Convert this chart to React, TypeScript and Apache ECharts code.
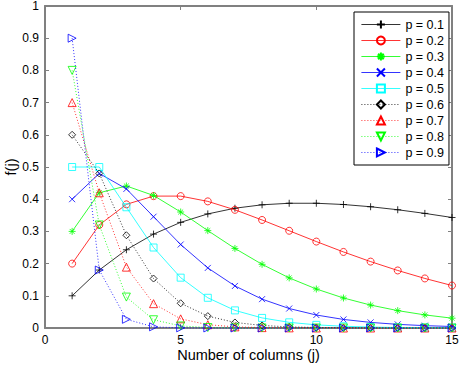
import React, { useEffect, useRef } from "react";
import * as echarts from "echarts";

const columns = [1, 2, 3, 4, 5, 6, 7, 8, 9, 10, 11, 12, 13, 14, 15];

const p01 = [0.1, 0.18, 0.243, 0.2916, 0.3281, 0.3543, 0.372, 0.3826, 0.3874, 0.3874, 0.3835, 0.3766, 0.3672, 0.3559, 0.3432];
const p02 = [0.2, 0.32, 0.384, 0.4096, 0.4096, 0.3932, 0.367, 0.3355, 0.302, 0.2684, 0.2362, 0.2062, 0.1787, 0.1539, 0.1319];
const p03 = [0.3, 0.42, 0.441, 0.4116, 0.3602, 0.3025, 0.2471, 0.1977, 0.1556, 0.1211, 0.0932, 0.0712, 0.054, 0.0407, 0.0305];
const p04 = [0.4, 0.48, 0.432, 0.3456, 0.2592, 0.1866, 0.1306, 0.0896, 0.0605, 0.0403, 0.0266, 0.0174, 0.0113, 0.0073, 0.0047];
const p05 = [0.5, 0.5, 0.375, 0.25, 0.1563, 0.0938, 0.0547, 0.0313, 0.0176, 0.0098, 0.0054, 0.0029, 0.0016, 0.0009, 0.0005];
const p06 = [0.6, 0.48, 0.288, 0.1536, 0.0768, 0.0369, 0.0172, 0.0079, 0.0035, 0.0016, 0.0007, 0.0003, 0.0001, 0.0001, 0.0];
const p07 = [0.7, 0.42, 0.189, 0.0756, 0.0284, 0.0102, 0.0036, 0.0012, 0.0004, 0.0001, 0.0, 0.0, 0.0, 0.0, 0.0];
const p08 = [0.8, 0.32, 0.096, 0.0256, 0.0064, 0.0015, 0.0004, 0.0001, 0.0, 0.0, 0.0, 0.0, 0.0, 0.0, 0.0];
const p09 = [0.9, 0.18, 0.027, 0.0036, 0.0005, 0.0001, 0.0, 0.0, 0.0, 0.0, 0.0, 0.0, 0.0, 0.0, 0.0];

const seriesNames = ["p = 0.1", "p = 0.2", "p = 0.3", "p = 0.4", "p = 0.5", "p = 0.6", "p = 0.7", "p = 0.8", "p = 0.9"];
const seriesValues = [p01, p02, p03, p04, p05, p06, p07, p08, p09];

const xTicks = { min: 0, max: 15, interval: 5 };
const yTicks = { min: 0, max: 1, interval: 0.1 };

const xLabel = "Number of columns (j)";
const yLabel = "f(j)";

const colors = ["#000000", "#ff0000", "#00ff00", "#0000ff", "#00ffff", "#000000", "#ff0000", "#00ff00", "#0000ff"];
const symbols = [
  "path://M0,5L10,5M5,0L5,10",
  "circle",
  "path://M0,5L10,5M5,0L5,10M1.5,1.5L8.5,8.5M8.5,1.5L1.5,8.5",
  "path://M0,0L10,10M10,0L0,10",
  "rect",
  "path://M5,0L10,5L5,10L0,5Z",
  "path://M5,0L10,10L0,10Z",
  "path://M0,0L10,0L5,10Z",
  "path://M0,0L10,5L0,10Z",
];
const symbolSizes = [7, 7, 7, 6, 7, 7, 8, 8, 8];
const dotted = [false, false, false, false, false, true, true, true, true];

const FONT = "'Liberation Sans', Arial, Helvetica, sans-serif";
const AXIS_COLOR = "#808080";

export default function App() {
  const ref = useRef<HTMLDivElement>(null);
  useEffect(() => {
    if (!ref.current) return;
    const chart = echarts.init(ref.current, undefined, { renderer: "svg" });
    const axisCommon = {
      axisLine: { show: true, onZero: false, lineStyle: { color: AXIS_COLOR, width: 2 } },
      axisTick: { show: true, inside: true, length: 4, lineStyle: { color: AXIS_COLOR, width: 1 } },
      splitLine: { show: false },
    };
    const series = seriesValues.map((vals, i) => ({
      name: seriesNames[i],
      type: "line",
      data: vals.map((v, k) => [columns[k], v]),
      symbol: symbols[i],
      symbolSize: symbolSizes[i],
      showAllSymbol: true,
      clip: false,
      xAxisIndex: 0,
      yAxisIndex: 0,
      lineStyle: { color: colors[i], width: 0.8, type: dotted[i] ? [1, 2] : "solid" },
      itemStyle: { color: "rgba(255,255,255,0)", borderColor: colors[i], borderWidth: 0.8 },
      emphasis: { disabled: true },
      z: 2 + i,
    }));
    chart.setOption({
      animation: false,
      backgroundColor: "#ffffff",
      textStyle: { fontFamily: FONT },
      grid: { left: 45, right: 11, top: 6, bottom: 40, containLabel: false, outerBoundsMode: "none" },
      legend: {
        orient: "vertical",
        left: 354,
        top: 12,
        padding: [6, 5, 6, 7],
        itemWidth: 39,
        itemHeight: 10,
        itemGap: 3,
        backgroundColor: "#ffffff",
        borderColor: "#000000",
        borderWidth: 1,
        lineStyle: { width: 0.8 },
        textStyle: { fontFamily: FONT, fontSize: 12.5, color: "#000000", padding: [0, 0, 0, 0] },
        data: seriesNames,
        selectedMode: false,
      },
      xAxis: [
        {
          type: "value",
          ...xTicks,
          position: "bottom",
          name: xLabel,
          nameLocation: "middle",
          nameGap: 19,
          nameMoveOverlap: false,
          nameTextStyle: { fontFamily: FONT, fontSize: 14.5, color: "#000000", verticalAlign: "top" },
          axisLabel: { show: true, fontFamily: FONT, fontSize: 12, color: "#000000", margin: 6 },
          ...axisCommon,
        },
        {
          type: "value",
          ...xTicks,
          position: "top",
          axisLabel: { show: false },
          ...axisCommon,
        },
      ],
      yAxis: [
        {
          type: "value",
          ...yTicks,
          position: "left",
          name: yLabel,
          nameLocation: "middle",
          nameGap: 27,
          nameRotate: 90,
          nameMoveOverlap: false,
          nameTextStyle: { fontFamily: FONT, fontSize: 14.5, color: "#000000" },
          axisLabel: { show: true, fontFamily: FONT, fontSize: 12, color: "#000000", margin: 6 },
          ...axisCommon,
        },
        {
          type: "value",
          ...yTicks,
          position: "right",
          axisLabel: { show: false },
          ...axisCommon,
        },
      ],
      series,
    });
    return () => chart.dispose();
  }, []);
  return (
    <div
      ref={ref}
      style={{ position: "absolute", left: 0, top: 0, width: 463, height: 368 }}
    />
  );
}
